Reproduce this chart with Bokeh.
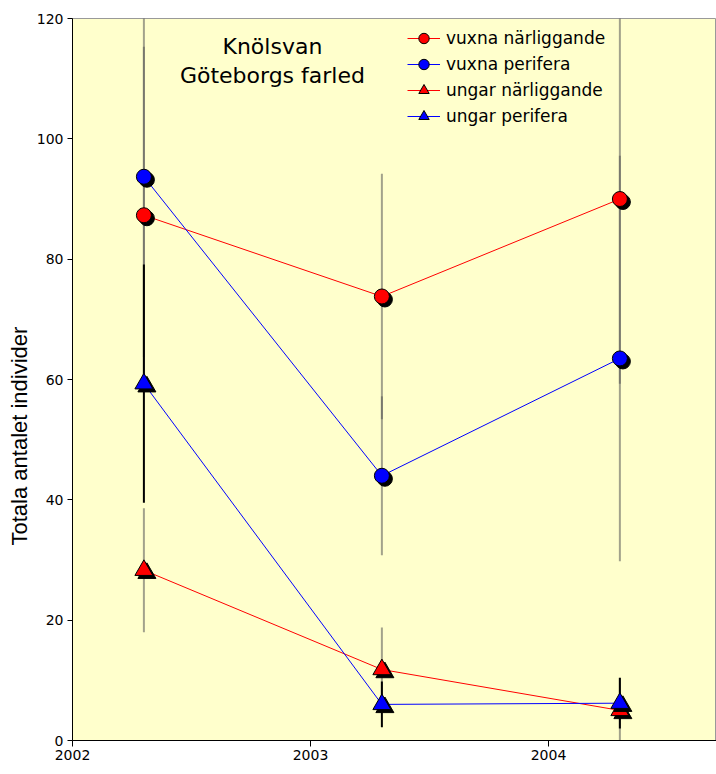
import numpy as np
from bokeh.plotting import figure
from bokeh.models import (ColumnDataSource, Legend, LegendItem, FixedTicker, Label, Range1d, Title)
from bokeh.transform import dodge
from bokeh.embed import file_html
from bokeh.resources import INLINE

# ---- data ----
years = [2002.3, 2003.3, 2004.3]
vuxna_nar = [87.3, 73.8, 90.0]
vuxna_nar_err = [28.0, 20.4, 30.7]
vuxna_per = [93.7, 44.0, 63.5]
vuxna_per_err = [30.0, 13.2, 33.7]
ungar_nar = [28.3, 11.8, 5.0]
ungar_nar_err = [10.3, 7.0, 5.5]
ungar_per = [59.3, 6.0, 6.2]
ungar_per_err = [19.8, 3.8, 4.2]
x_ticks = [2002, 2003, 2004]
y_ticks = [0, 20, 40, 60, 80, 100, 120]
series_names = ["vuxna närliggande", "vuxna perifera", "ungar närliggande", "ungar perifera"]
title_lines = ["Knölsvan", "Göteborgs farled"]
y_label = "Totala antalet individer"

p = figure(frame_width=644, frame_height=722, output_backend="svg", toolbar_location=None,
           x_range=Range1d(2002, 2004.706), y_range=Range1d(0, 120),
           min_border_left=72, min_border_right=0, min_border_top=18, min_border_bottom=26,
           background_fill_color="#FFFFCC", border_fill_color="white")
p.outline_line_color = "#999999"
p.grid.visible = False

for ax in (p.xaxis[0], p.yaxis[0]):
    ax.axis_line_color = "black"
    ax.major_tick_line_color = "black"
    ax.major_tick_in = 0
    ax.major_tick_out = 6
    ax.minor_tick_line_color = None
    ax.major_label_text_font = "DejaVu Sans"
    ax.major_label_text_font_size = "14px"
    ax.major_label_text_color = "black"
p.xaxis[0].ticker = FixedTicker(ticks=x_ticks)
p.yaxis[0].ticker = FixedTicker(ticks=y_ticks)
p.xaxis[0].major_label_standoff = 3
p.yaxis[0].major_label_standoff = 4
p.yaxis[0].major_tick_out = 5

series = [
    (vuxna_nar, vuxna_nar_err, "red", "circle", 15),
    (vuxna_per, vuxna_per_err, "blue", "circle", 15),
    (ungar_nar, ungar_nar_err, "red", "triangle", 18),
    (ungar_per, ungar_per_err, "blue", "triangle", 18),
]

sources = []
for vals, err, color, marker, size in series:
    v = np.array(vals); e = np.array(err)
    sources.append(ColumnDataSource(dict(x=years, y=vals, lo=list(v - e), hi=list(v + e))))

# error bars: grey translucent for three series, black for ungar perifera
for i, src in enumerate(sources):
    if i == 3:
        continue
    p.segment(x0="x", y0="lo", x1="x", y1="hi", source=src, line_color="#555555",
              line_alpha=0.55, line_width=2)
p.segment(x0="x", y0="lo", x1="x", y1="hi", source=sources[3], line_color="black", line_width=2)

items = []
line_rs = []
for (vals, err, color, marker, size), src in zip(series, sources):
    lr = p.line("x", "y", source=src, line_color=color, line_width=1)
    line_rs.append(lr)

for (vals, err, color, marker, size), src, lr, name in zip(series, sources, line_rs, series_names):
    # shadow
    p.scatter(x=dodge("x", 0.0126, range=p.x_range), y=dodge("y", -0.5, range=p.y_range),
              source=src, marker=marker, size=size, fill_color="black", line_color="black")
    mr = p.scatter("x", "y", source=src, marker=marker, size=size, fill_color=color,
                   line_color="black", line_width=1)
    items.append(LegendItem(label=name, renderers=[lr, mr]))

legend = Legend(items=items, location=(335, 611), background_fill_alpha=0,
                border_line_color=None, label_text_font="DejaVu Sans",
                label_text_font_size="17px", label_text_color="black",
                glyph_width=33, glyph_height=26,
                label_height=26, label_standoff=6, spacing=0, padding=0, margin=0)
p.add_layout(legend, "center")

p.add_layout(Label(x=2002.84, y=115.3, text=title_lines[0], text_align="center",
                   text_baseline="alphabetic", text_font="DejaVu Sans", text_font_size="22px",
                   text_color="black"))
p.add_layout(Label(x=2002.84, y=110.6, text=title_lines[1], text_align="center",
                   text_baseline="alphabetic", text_font="DejaVu Sans", text_font_size="22px",
                   text_color="black"))

# y-axis title, in the left panel, starting below the axis centre like the original
p.add_layout(Title(text=y_label, align="left", offset=195, standoff=3,
                   text_font="Liberation Sans", text_font_size="22px",
                   text_font_style="normal", text_color="black"), "left")

open("out.html", "w").write(file_html(p, INLINE))
